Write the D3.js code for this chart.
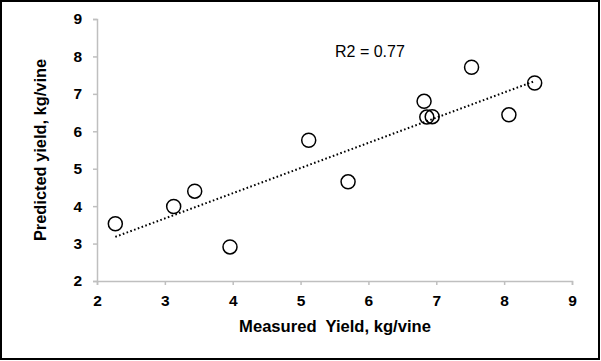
<!DOCTYPE html>
<html><head><meta charset="utf-8">
<script src="https://cdn.jsdelivr.net/npm/d3@7"></script>
<style>html,body{margin:0;padding:0;background:#fff;}svg{display:block;}</style>
</head><body>
<script>
const measured  = [2.27, 3.13, 3.44, 3.96, 5.12, 5.70, 6.82, 6.86, 6.94, 7.52, 8.07, 8.45];
const predicted = [3.53, 3.99, 4.40, 2.91, 5.76, 4.65, 6.80, 6.38, 6.39, 7.71, 6.44, 7.29];
const trendX = [2.27, 8.45];
const trendY = [3.18, 7.34];
const xTicks = [2, 3, 4, 5, 6, 7, 8, 9];
const yTicks = [2, 3, 4, 5, 6, 7, 8, 9];
const r2Label = "R2 = 0.77";
const xTitle = "Measured  Yield, kg/vine";
const yTitle = "Predicted yield, kg/vine";

const W = 601, H = 361;
const svg = d3.select("body").append("svg").attr("width", W).attr("height", H);
svg.append("rect").attr("x", 1).attr("y", 1).attr("width", 598).attr("height", 358)
  .attr("fill", "#fff").attr("stroke", "#000").attr("stroke-width", 2);

const x = d3.scaleLinear().domain([2, 9]).range([97, 572]);
const y = d3.scaleLinear().domain([2, 9]).range([281, 19]);
const font = "Liberation Sans, Arial, sans-serif";

const xAxis = svg.append("g").attr("transform", "translate(0,281)")
  .call(d3.axisBottom(x).tickValues(xTicks).tickSize(4).tickPadding(10).tickFormat(d3.format("d")));
const yAxis = svg.append("g").attr("transform", "translate(97,0)")
  .call(d3.axisLeft(y).tickValues(yTicks).tickSize(4).tickPadding(11).tickFormat(d3.format("d")));
[xAxis, yAxis].forEach(a => {
  a.select(".domain").attr("stroke", "#bfbfbf").attr("stroke-width", 1.5);
  a.selectAll(".tick line").attr("stroke", "#bfbfbf").attr("stroke-width", 1.5);
  a.selectAll(".tick text").attr("fill", "#000").attr("font-family", font)
    .attr("font-size", 15.5).attr("font-weight", "bold");
});

svg.append("line")
  .attr("x1", x(trendX[0])).attr("y1", y(trendY[0]))
  .attr("x2", x(trendX[1])).attr("y2", y(trendY[1]))
  .attr("stroke", "#000").attr("stroke-width", 2).attr("stroke-dasharray", "1.6,2.4");

svg.append("g").selectAll("circle").data(measured).join("circle")
  .attr("cx", d => x(d)).attr("cy", (d, i) => y(predicted[i])).attr("r", 7)
  .attr("fill", "none").attr("stroke", "#000").attr("stroke-width", 1.5);

svg.append("text").attr("x", 335).attr("y", 57).text(r2Label)
  .attr("font-family", font).attr("font-size", 16).attr("fill", "#000");

svg.append("text").attr("x", 335).attr("y", 332).attr("text-anchor", "middle").text(xTitle)
  .attr("font-family", font).attr("font-size", 16.6).attr("font-weight", "bold").attr("fill", "#000")
  .style("white-space", "pre");
svg.append("text").attr("transform", "translate(46,150) rotate(-90)").attr("text-anchor", "middle")
  .text(yTitle).attr("font-family", font).attr("font-size", 16.4).attr("font-weight", "bold").attr("fill", "#000");
</script>
</body></html>
